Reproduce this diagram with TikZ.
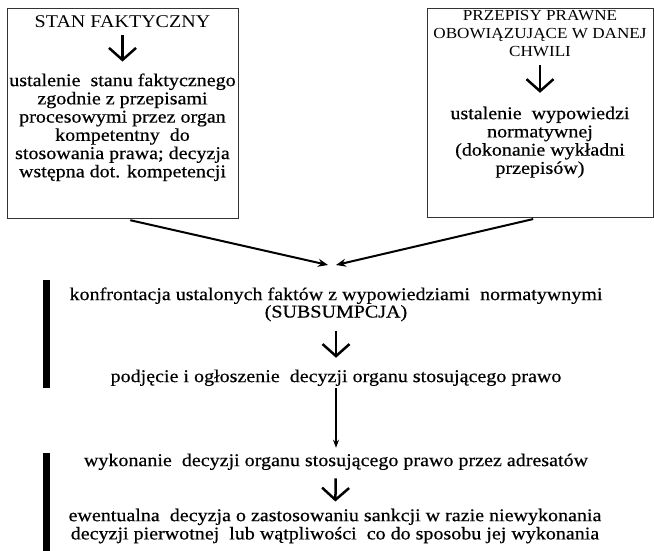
\documentclass[tikz,border=0pt]{standalone}
\usepackage{fontspec}
\setmainfont{Liberation Serif}[FakeStretch=1.117]
\newfontfamily\bodyfont{Liberation Serif}[FakeStretch=1.117,FakeBold=0.5]
\usetikzlibrary{arrows.meta,positioning}

\begin{document}
\begin{tikzpicture}[
    x=1bp, y=-1bp,
    txt/.style={inner sep=0pt, align=center, font=\bodyfont\fontsize{18}{18.3}\selectfont},
    caps/.style={inner sep=0pt, align=center, font=\fontsize{15.4}{18.3}\selectfont},
    boxframe/.style={draw=black!80, line width=0.9bp, inner sep=0pt},
    downarr/.style={line width=2.5bp, -{Straight Barb[length=12bp,width=27bp]}},
    meetarr/.style={line width=2bp, -{Stealth[length=10bp,width=8bp]}},
    longarr/.style={line width=1.3bp, -{Stealth[length=8bp,width=6bp]}},
    sidebar/.style={line width=7bp}
  ]
  \useasboundingbox (0,0) rectangle (654,551);

  \node[boxframe, minimum width=231bp, minimum height=210bp] (lbox) at (122.5,113) {};
  \node[boxframe, minimum width=226bp, minimum height=209bp] (rbox) at (540,112.5) {};

  \node[txt, font=\fontsize{18}{18.3}\selectfont] (stan) at (122.5,22) {STAN FAKTYCZNY};
  \node[txt] (ustst) at (122.5,127.3) {ustalenie\ \ stanu faktycznego\\
    zgodnie z przepisami\\ procesowymi przez organ\\ kompetentny\ \ do\\
    stosowania prawa; decyzja\\ wstępna dot. kompetencji};

  \node[caps] (przep) at (540,33.3) {PRZEPISY PRAWNE\\ OBOWIĄZUJĄCE W DANEJ\\ CHWILI};
  \node[txt] (wypow) at (540,142.2) {ustalenie\ \ wypowiedzi\\ normatywnej\\
    (dokonanie wykładni\\ przepisów)};

  \node[txt, font=\bodyfont\fontsize{18}{17.5}\selectfont] (konf) at (336,304.4)
    {konfrontacja ustalonych faktów z wypowiedziami\ \ normatywnymi\\ (SUBSUMPCJA)};
  \node[txt] (podj) at (336,377.8) {podjęcie i ogłoszenie\ \ decyzji organu stosującego prawo};
  \node[txt] (wyk) at (336,461.8) {wykonanie\ \ decyzji organu stosującego prawo przez adresatów};
  \node[txt] (ewent) at (335,526) {ewentualna\ \ decyzja o zastosowaniu sankcji w razie niewykonania\\
    decyzji pierwotnej\ \ lub wątpliwości\ \ co do sposobu jej wykonania};

  \coordinate (meetl) at (328,265);
  \coordinate (meetr) at (336,265);

  \draw[downarr, shorten <=7bp, shorten >=11.7bp] (stan) -- (ustst);
  \draw[downarr, shorten <=8.3bp, shorten >=13.7bp] (przep) -- (wypow);

  % both findings meet here
  \draw[meetarr, shorten <=8bp] (lbox.south) -- (meetl);
  \draw[meetarr, shorten <=7bp] (rbox.south) -- (meetr);

  \draw[downarr, shorten <=9bp, shorten >=11.7bp] (konf) -- (podj);
  \draw[longarr, shorten <=2bp, shorten >=5.7bp] (podj) -- (wyk);
  \draw[downarr, shorten <=8.1bp, shorten >=7bp] (wyk) -- (ewent);

  \draw[sidebar] (46.5,280) -- (46.5,388);
  \draw[sidebar] (46.5,453) -- (46.5,551);

\end{tikzpicture}
\end{document}
